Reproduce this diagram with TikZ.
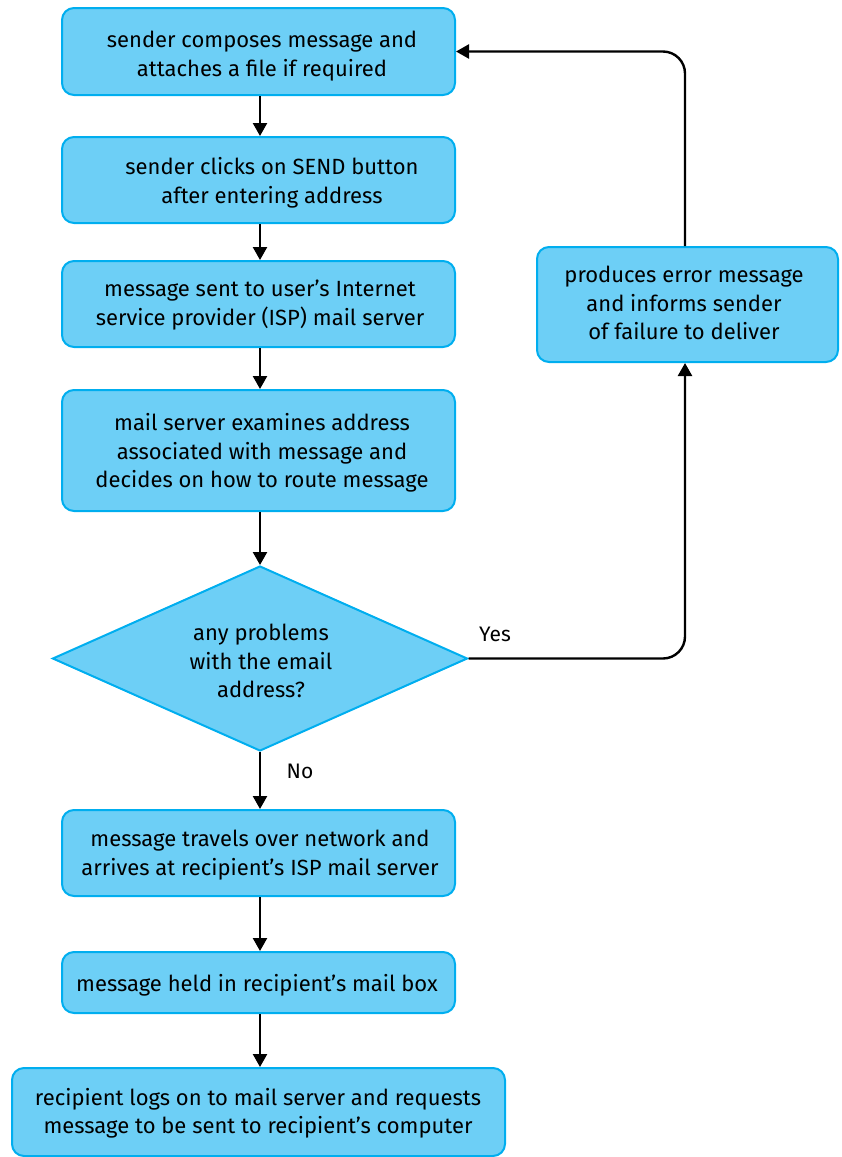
\documentclass[tikz,border=0pt]{standalone}
\usepackage{fontspec}
\setmainfont{Fira Sans}
\usetikzlibrary{shapes.geometric,arrows.meta}
\definecolor{boxfill}{HTML}{6DCFF6}
\definecolor{boxline}{HTML}{00AEEF}
\begin{document}
\begin{tikzpicture}[x=1pt,y=-1pt,
  every node/.style={font=\fontsize{22}{28.5}\selectfont, align=center, inner sep=0pt},
  stepbox/.style={draw=boxline, fill=boxfill, line width=2pt, rounded corners=12pt},
  decision/.style={diamond, draw=boxline, fill=boxfill, line width=2pt, aspect=2.24},
  flow/.style={line width=2.4pt, -{Triangle[length=13pt,width=14pt]}},
  lbl/.style={font=\fontsize{21}{24}\selectfont}]
\useasboundingbox (0,0) rectangle (841,1157);

% process boxes
\node[stepbox, minimum width=393pt, minimum height=87pt] (compose) at (258.5,51.5) {};
\node at (262,56) {sender composes message and\\attaches a file if required};

\node[stepbox, minimum width=393pt, minimum height=86pt] (send) at (258.5,180) {};
\node at (272,183) {sender clicks on SEND button\\after entering address};

\node[stepbox, minimum width=393pt, minimum height=86pt] (isp) at (258.5,304) {};
\node at (260,305) {message sent to user’s Internet\\service provider (ISP) mail server};

\node[stepbox, minimum width=393pt, minimum height=121pt] (examine) at (258.5,450.5) {};
\node at (262,453) {mail server examines address\\associated with message and\\decides on how to route message};

% decision
\node[decision, minimum width=415pt, minimum height=185pt] (check) at (260,658.5) {};
\node at (261,661) {any problems\\with the email\\address?};

\node[stepbox, minimum width=393pt, minimum height=86pt] (travel) at (258.5,853) {};
\node at (260,855) {message travels over network and\\arrives at recipient’s ISP mail server};

\node[stepbox, minimum width=393pt, minimum height=61pt] (held) at (258.5,982.5) {};
\node at (257,985) {message held in recipient’s mail box};

\node[stepbox, minimum width=493pt, minimum height=88pt] (logon) at (258.5,1112) {};
\node at (258,1113) {recipient logs on to mail server and requests\\message to be sent to recipient’s computer};

% error branch
\node[stepbox, minimum width=301pt, minimum height=115pt] (error) at (687.5,304.5) {};
\node at (684,303) {produces error message\\and informs sender\\of failure to deliver};

% connectors
\draw[flow] (compose.south -| check.north) -- (send.north -| check.north);
\draw[flow] (send.south -| check.north) -- (isp.north -| check.north);
\draw[flow] (isp.south -| check.north) -- (examine.north -| check.north);
\draw[flow] (examine.south -| check.north) -- (check.north);
\draw[flow] (check.south) -- (travel.north -| check.south);
\draw[flow] (travel.south -| check.south) -- (held.north -| check.south);
\draw[flow] (held.south -| check.south) -- (logon.north -| check.south);
\draw[flow, rounded corners=22pt] (check.east) -| (error.south -| 685,0);
\draw[flow, rounded corners=22pt] (error.north -| 685,0) |- (compose.east);

% branch labels
\node[lbl] (yes) at (495,634) {Yes};
\node[lbl] (no) at (300,771) {No};
\end{tikzpicture}
\end{document}
